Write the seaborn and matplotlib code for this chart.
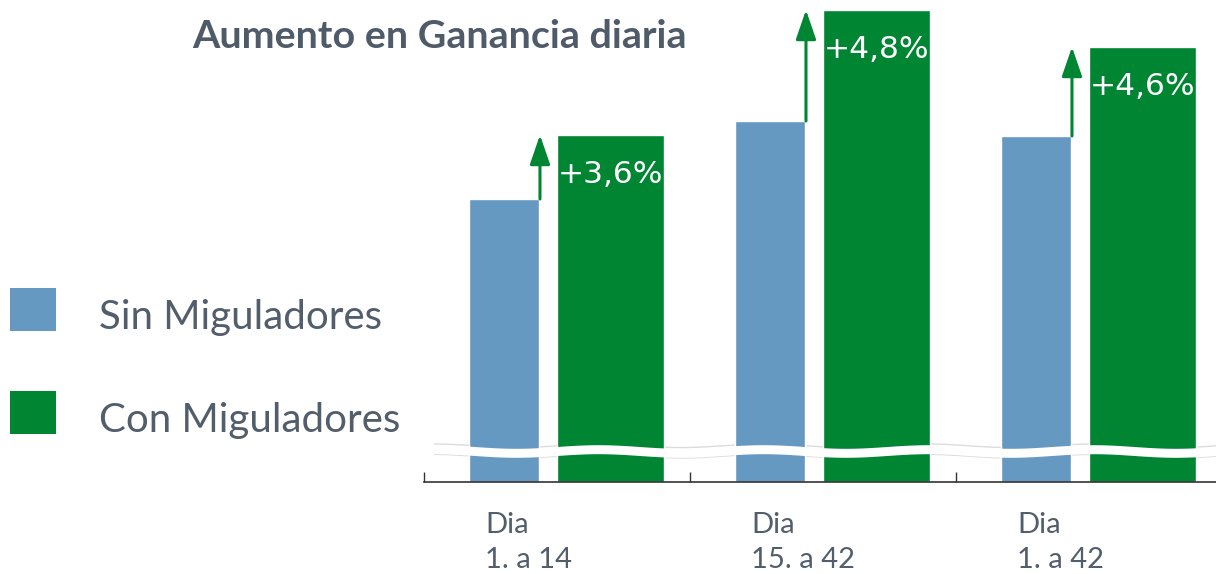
import numpy as np
import pandas as pd
import matplotlib
matplotlib.use("Agg")
import matplotlib.pyplot as plt
import seaborn as sns
from matplotlib.patches import Patch, Rectangle
from matplotlib.legend_handler import HandlerPatch

# ---- data ----
grupos = ["Dia\n1. a 14", "Dia\n15. a 42", "Dia\n1. a 42"]
series = ["Sin Miguladores", "Con Miguladores"]
sin_valores = [283, 361, 346]      # bar heights (broken axis, relative scale)
con_valores = [347, 472, 435]
aumentos = ["+3,6%", "+4,8%", "+4,6%"]
titulo = "Aumento en Ganancia diaria"

AZUL = "#6699C2"
VERDE = "#008533"
GRIS_TXT = "#525E6C"

sns.set_theme(style="white")
plt.rcParams["font.family"] = ["Lato", "DejaVu Sans"]

df = pd.DataFrame({
    "grupo": grupos * 2,
    "serie": [series[0]] * len(grupos) + [series[1]] * len(grupos),
    "valor": sin_valores + con_valores,
})

W, H = 1216, 574
fig = plt.figure(figsize=(W / 100, H / 100), dpi=100)
base_px = 482
ax = fig.add_axes([424 / W, (H - base_px) / H, (W - 424) / W, base_px / H])

sns.barplot(data=df, x="grupo", y="valor", hue="serie", order=grupos,
            hue_order=series, palette=[AZUL, VERDE], saturation=1,
            errorbar=None, legend=False, ax=ax, zorder=2)

# reshape bars: narrow blue bar left of center, wide green bar from center
for i, p in enumerate(ax.containers[0]):
    p.set_x(i - 0.33)
    p.set_width(0.261)
    p.set_zorder(2)
for i, p in enumerate(ax.containers[1]):
    p.set_x(i)
    p.set_width(0.402)
    p.set_zorder(2)

ax.set_ylim(0, base_px)
ax.set_xlim(-0.5, (W - 424) / 266 - 0.5)

# axis styling
for s in ["top", "right", "left"]:
    ax.spines[s].set_visible(False)
ax.spines["bottom"].set_color("#333333")
ax.spines["bottom"].set_linewidth(1.2)
ax.set_xticks([-0.5, 0.5, 1.5])
ax.set_xticklabels([])
ax.set_yticks([])
ax.set_xlabel("")
ax.set_ylabel("")
ax.tick_params(axis="x", direction="in", length=7, width=1, color="#333333", bottom=True)

# axis-break band
xs = np.linspace(-0.46, 2.6, 600)
yc = 31 + 1.8 * np.sin(2 * np.pi * xs / 0.62)
ax.fill_between(xs, yc - 4.5, yc + 4.5, color="white", lw=0, zorder=3)
ax.plot(xs, yc + 5.2, color="#dcdcdc", lw=1, zorder=1)
ax.plot(xs, yc - 5.2, color="#dcdcdc", lw=1, zorder=1)

# arrows and percentage labels
for i, (a, b, t) in enumerate(zip(sin_valores, con_valores, aumentos)):
    ax.annotate("", xy=(i - 0.064, b), xytext=(i - 0.064, a),
                arrowprops=dict(arrowstyle="-|>,head_length=1.8,head_width=0.62",
                                mutation_scale=10, color=VERDE, lw=2.2,
                                shrinkA=0, shrinkB=0), zorder=4)
    ax.annotate(t, xy=(i, b), xytext=(1, -48), textcoords="offset pixels",
                color="white", fontsize=22.5, family="DejaVu Sans",
                ha="left", va="baseline", zorder=5)

# category labels (two lines, left aligned)
for i, g in enumerate(grupos):
    l1, l2 = g.split("\n")
    ax.annotate(l1, xy=(i - 0.27, 0), xycoords=("data", "axes fraction"),
                xytext=(0, -51), textcoords="offset pixels", ha="left",
                va="baseline", fontsize=21, color=GRIS_TXT, annotation_clip=False)
    ax.annotate(l2, xy=(i - 0.27, 0), xycoords=("data", "axes fraction"),
                xytext=(0, -86), textcoords="offset pixels", ha="left",
                va="baseline", fontsize=21, color=GRIS_TXT, annotation_clip=False)

# title
fig.text(192 / W, 1 - 48 / H, titulo, fontsize=28.4, fontweight="bold",
         color="#4F5B69", ha="left", va="baseline")


# legend (square raised a little relative to its label)
def cuadro(legend, orig_handle, xdescent, ydescent, width, height, fontsize):
    return Rectangle((-xdescent, -ydescent + 4), width, height)


handles = [Patch(facecolor=AZUL, edgecolor="none"), Patch(facecolor=VERDE, edgecolor="none")]
fig.legend(handles, series, loc="upper left", bbox_to_anchor=(10 / W, 1 - 294 / H),
           frameon=False, borderpad=0, borderaxespad=0, fontsize=29,
           handlelength=1.15, handleheight=1.25, handletextpad=1.05,
           labelspacing=1.5, labelcolor=GRIS_TXT,
           handler_map={Patch: HandlerPatch(patch_func=cuadro)})

fig.savefig("out.png", dpi=100)
